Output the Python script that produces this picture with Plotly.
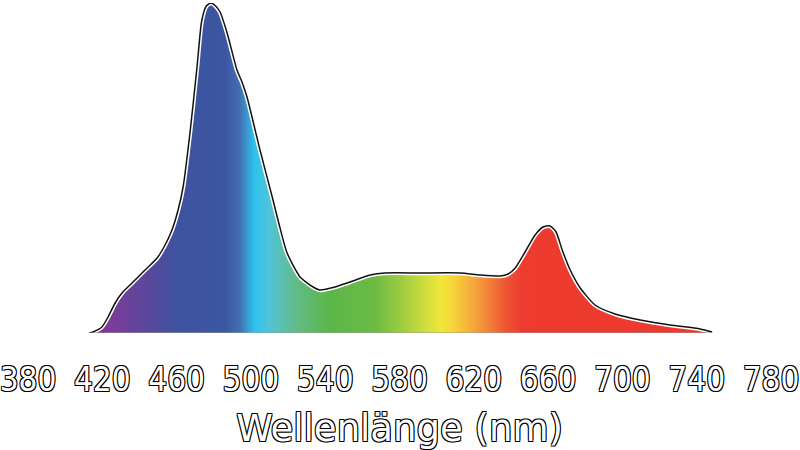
import plotly.graph_objects as go

# Spectrum (wavelength in nm, relative intensity)
wavelength = [413.0, 415.0, 419.8, 423.1, 426.9, 430.6, 436.0, 443.0, 449.5, 453.8,
              457.5, 460.8, 463.5, 467.2, 471.0, 473.5, 476.0, 478.5, 481.0, 483.4,
              487.2, 492.5, 495.2, 497.9, 504.9, 511.9, 515.0, 519.5, 526.5, 533.5,
              537.2, 545.3, 553.4, 564.2, 572.2, 591.0, 612.6, 623.4, 634.2, 638.5,
              642.3, 647.6, 653.0, 657.3, 661.1, 664.3, 667.6, 671.9, 677.3, 685.3,
              696.1, 709.6, 725.7, 741.9, 748.3]
intensity = [0, 1, 6, 16, 30, 40, 50, 63, 75, 88,
             103, 123, 146, 200, 266, 312, 327, 330, 327, 321,
             300, 263, 251, 236, 183, 133, 110, 80, 56, 46,
             43, 46, 51, 58, 60, 60, 60, 58, 57, 59,
             65, 81, 98, 106, 107, 101, 83, 63, 45, 28,
             19, 13, 8, 4, 1]

tick_values = [380, 420, 460, 500, 540, 580, 620, 660, 700, 740, 780]
tick_labels = [str(v) for v in tick_values]
x_title = "Wellenlänge (nm)"

# colour stops along the wavelength (nm, colour)
stop_nm = [413, 425, 445, 460, 486, 494, 502, 510, 524, 542, 567, 587, 602, 608, 623, 637, 646, 750]
stop_col = ["#8a2f90", "#7a3d98", "#58489c", "#3f53a0", "#3c56a2", "#4370b2", "#2fc2ef",
            "#52c3d6", "#62bc88", "#5ab649", "#6cbb45", "#b3d33f", "#f0e73b", "#f6d73a",
            "#f49a3b", "#ef5634", "#ed3b2f", "#ed3a2e"]

lo, hi = min(wavelength), max(wavelength)
colorscale = []
for nm, c in zip(stop_nm, stop_col):
    f = min(max((nm - lo) / (hi - lo), 0), 1)
    colorscale.append([f, c])

fig = go.Figure()
fig.add_trace(go.Scatter(
    x=wavelength, y=intensity, mode="lines",
    line=dict(color="white", width=4.5, shape="spline", smoothing=0.6),
    fill="tozeroy",
    fillgradient=dict(type="horizontal", colorscale=colorscale),
    hoverinfo="skip", showlegend=False,
))
fig.add_trace(go.Scatter(
    x=wavelength, y=intensity, mode="lines",
    line=dict(color="#111111", width=1.5, shape="spline", smoothing=0.6),
    hoverinfo="skip", showlegend=False,
))
fig.add_trace(go.Scatter(
    x=[wavelength[0], wavelength[-1]], y=[0, 0], mode="lines",
    line=dict(color="#9a9a9a", width=1.2),
    hoverinfo="skip", showlegend=False,
))

outline = "-1px -1px 0 #000, 1px -1px 0 #000, -1px 1px 0 #000, 1px 1px 0 #000"
fig.update_layout(
    width=800, height=450,
    margin=dict(l=28, r=29, t=3, b=117),
    paper_bgcolor="white", plot_bgcolor="white",
    xaxis=dict(
        range=[380, 780], tickmode="array", tickvals=tick_values, ticktext=tick_labels,
        showgrid=False, zeroline=False, showline=False, ticks="",
        ticklabelstandoff=24, ticklabeloverflow="allow",
        automargin=False,
        tickfont=dict(family="DejaVu Sans Condensed, sans-serif",
                      size=33, color="white", shadow=outline),
        title=dict(text=x_title, standoff=20,
                   font=dict(family="DejaVu Sans, sans-serif", size=37,
                             color="white", shadow=outline)),
    ),
    yaxis=dict(range=[0, 330], visible=False),
)

fig.write_html("out.html", config={"displayModeBar": False},
               post_script="document.body.style.margin='0';")
